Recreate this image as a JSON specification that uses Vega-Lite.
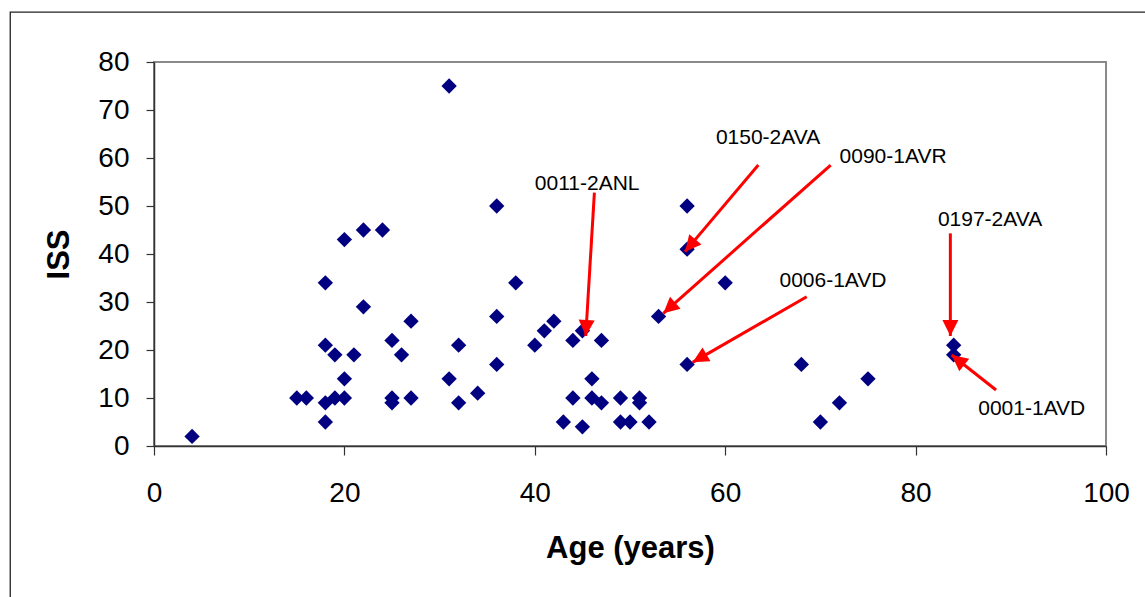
{
  "$schema": "https://vega.github.io/schema/vega-lite/v6.json",
  "width": 952,
  "height": 384,
  "autosize": "none",
  "padding": {"left": 154, "top": 62, "right": 39, "bottom": 151},
  "background": "white",
  "config": {
    "font": "Liberation Sans",
    "view": {"stroke": "#8a8a8a", "strokeWidth": 2},
    "axis": {
      "grid": false,
      "domainColor": "#333333", "domainWidth": 1.5,
      "tickColor": "#333333", "tickWidth": 1.2,
      "labelFont": "Liberation Sans", "labelFontSize": 28, "labelColor": "black",
      "labelFlush": false, "labelOverlap": false,
      "titleFont": "Liberation Sans", "titleFontSize": 31, "titleFontWeight": "bold",
      "titleColor": "black"
    },
    "axisX": {"tickSize": 9, "labelPadding": 24, "titlePadding": 26},
    "axisY": {"tickSize": 8, "labelPadding": 17, "titlePadding": 22}
  },
  "datasets": {
    "patients": [
      {"age": 4, "iss": 2},
      {"age": 15, "iss": 10},
      {"age": 16, "iss": 10},
      {"age": 18, "iss": 34},
      {"age": 18, "iss": 21},
      {"age": 18, "iss": 9},
      {"age": 18, "iss": 5},
      {"age": 19, "iss": 19},
      {"age": 19, "iss": 10},
      {"age": 20, "iss": 43},
      {"age": 20, "iss": 14},
      {"age": 20, "iss": 10},
      {"age": 21, "iss": 19},
      {"age": 22, "iss": 45},
      {"age": 22, "iss": 29},
      {"age": 24, "iss": 45},
      {"age": 25, "iss": 22},
      {"age": 25, "iss": 10},
      {"age": 25, "iss": 9},
      {"age": 26, "iss": 19},
      {"age": 27, "iss": 26},
      {"age": 27, "iss": 10},
      {"age": 31, "iss": 75},
      {"age": 31, "iss": 14},
      {"age": 32, "iss": 21},
      {"age": 32, "iss": 9},
      {"age": 34, "iss": 11},
      {"age": 36, "iss": 50},
      {"age": 36, "iss": 27},
      {"age": 36, "iss": 17},
      {"age": 38, "iss": 34},
      {"age": 40, "iss": 21},
      {"age": 41, "iss": 24},
      {"age": 42, "iss": 26},
      {"age": 43, "iss": 5},
      {"age": 44, "iss": 22},
      {"age": 44, "iss": 10},
      {"age": 45, "iss": 24},
      {"age": 45, "iss": 4},
      {"age": 46, "iss": 14},
      {"age": 46, "iss": 10},
      {"age": 47, "iss": 22},
      {"age": 47, "iss": 9},
      {"age": 49, "iss": 10},
      {"age": 49, "iss": 5},
      {"age": 50, "iss": 5},
      {"age": 51, "iss": 10},
      {"age": 51, "iss": 9},
      {"age": 52, "iss": 5},
      {"age": 53, "iss": 27},
      {"age": 56, "iss": 50},
      {"age": 56, "iss": 41},
      {"age": 56, "iss": 17},
      {"age": 60, "iss": 34},
      {"age": 68, "iss": 17},
      {"age": 70, "iss": 5},
      {"age": 72, "iss": 9},
      {"age": 75, "iss": 14},
      {"age": 84, "iss": 21},
      {"age": 84, "iss": 19}
    ],
    "callouts": [
      {"label": "0011-2ANL", "label_age": 45.5, "label_iss": 53.3, "from_age": 46.26, "from_iss": 52.77, "to_age": 45.35, "to_iss": 22.92, "heading": 183.4},
      {"label": "0150-2AVA", "label_age": 64.5, "label_iss": 62.85, "from_age": 63.48, "from_iss": 58.54, "to_age": 55.78, "to_iss": 40.49, "heading": 220.2},
      {"label": "0090-1AVR", "label_age": 77.63, "label_iss": 58.9, "from_age": 71.08, "from_iss": 58.54, "to_age": 53.5, "to_iss": 27.64, "heading": 228.5},
      {"label": "0006-1AVD", "label_age": 71.32, "label_iss": 33.06, "from_age": 68.56, "from_iss": 31.1, "to_age": 56.58, "to_iss": 17.43, "heading": 240.1},
      {"label": "0197-2AVA", "label_age": 87.82, "label_iss": 45.83, "from_age": 83.65, "from_iss": 44.3, "to_age": 83.65, "to_iss": 22.92, "heading": 180},
      {"label": "0001-1AVD", "label_age": 92.2, "label_iss": 6.46, "from_age": 88.45, "from_iss": 11.67, "to_age": 83.79, "to_iss": 18.96, "heading": 308.3}
    ]
  },
  "layer": [
    {
      "data": {"name": "patients"},
      "mark": {"type": "point", "shape": "diamond", "filled": true, "size": 235, "color": "#000080", "opacity": 1, "strokeWidth": 0},
      "encoding": {
        "x": {
          "field": "age", "type": "quantitative", "title": "Age (years)",
          "scale": {"domain": [0, 100], "nice": false, "zero": false},
          "axis": {"values": [0, 20, 40, 60, 80, 100]}
        },
        "y": {
          "field": "iss", "type": "quantitative", "title": "ISS",
          "scale": {"domain": [0, 80], "nice": false, "zero": false},
          "axis": {"values": [0, 10, 20, 30, 40, 50, 60, 70, 80]}
        }
      }
    },
    {
      "data": {"name": "callouts"},
      "mark": {"type": "rule", "color": "#ff0000", "strokeWidth": 3},
      "encoding": {
        "x": {"field": "from_age", "type": "quantitative", "title": "Age (years)"},
        "y": {"field": "from_iss", "type": "quantitative", "title": "ISS"},
        "x2": {"field": "to_age"},
        "y2": {"field": "to_iss"}
      }
    },
    {
      "data": {"name": "callouts"},
      "mark": {"type": "point", "shape": "M0,0L-1,2L1,2Z", "filled": true, "size": 256, "color": "#ff0000", "opacity": 1, "strokeWidth": 0},
      "encoding": {
        "x": {"field": "to_age", "type": "quantitative", "title": "Age (years)"},
        "y": {"field": "to_iss", "type": "quantitative", "title": "ISS"},
        "angle": {"field": "heading", "type": "quantitative", "scale": null}
      }
    },
    {
      "data": {"name": "callouts"},
      "mark": {"type": "text", "font": "Liberation Sans", "fontSize": 21, "color": "black", "align": "center", "baseline": "alphabetic"},
      "encoding": {
        "x": {"field": "label_age", "type": "quantitative", "title": "Age (years)"},
        "y": {"field": "label_iss", "type": "quantitative", "title": "ISS"},
        "text": {"field": "label"}
      }
    },
    {
      "data": {"values": [{}]},
      "mark": {"type": "rect", "fill": null, "stroke": "#222222", "strokeWidth": 1.3},
      "encoding": {
        "x": {"datum": -15.1, "type": "quantitative", "title": "Age (years)"},
        "y": {"datum": 90.4, "type": "quantitative", "title": "ISS"},
        "x2": {"datum": 115},
        "y2": {"datum": -40}
      }
    }
  ]
}
